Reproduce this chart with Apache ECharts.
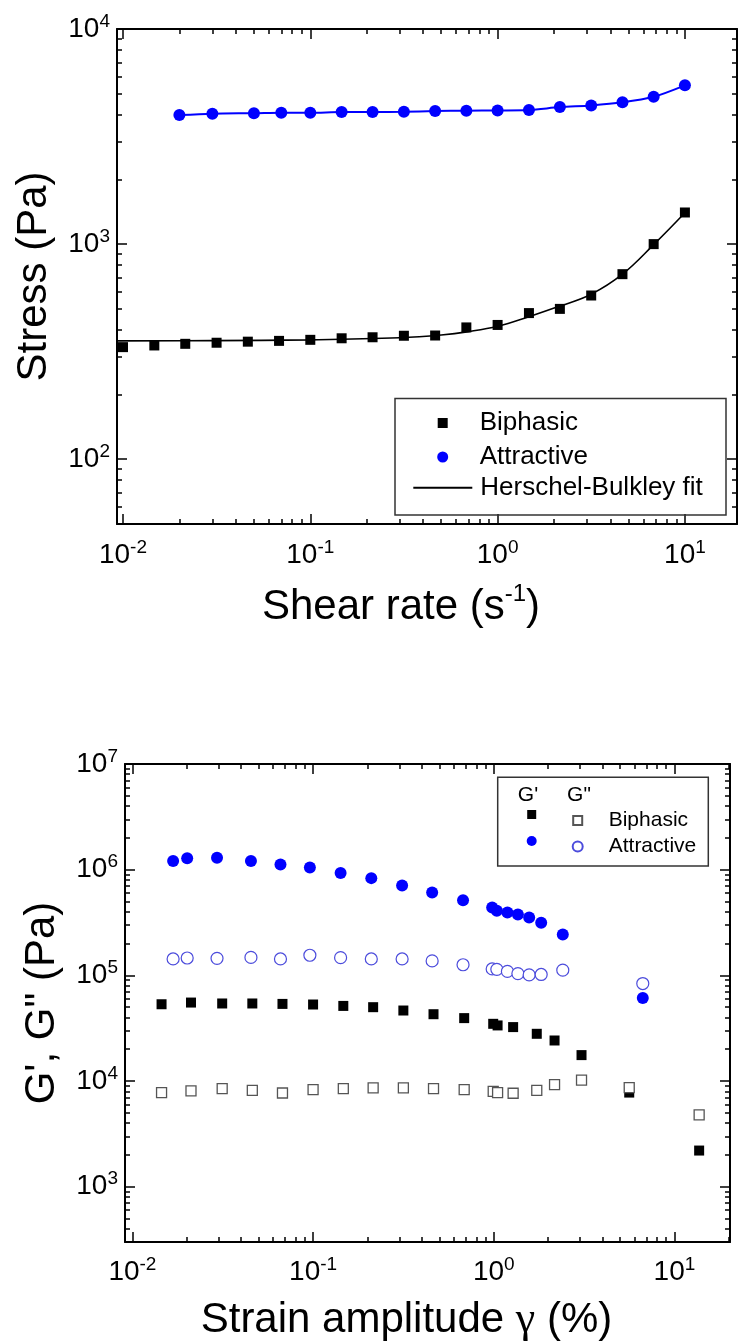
<!DOCTYPE html>
<html><head><meta charset="utf-8">
<script src="https://cdn.jsdelivr.net/npm/echarts@6/dist/echarts.min.js"></script>
<style>html,body{margin:0;padding:0;background:#fff}#c{width:738px;height:1342px}</style>
</head><body><div id="c"></div>
<script>
// ===== Top chart: flow curves (stress vs shear rate) =====
const biphasicRate   = [0.01,0.0147,0.0215,0.0316,0.0464,0.0681,0.1,0.147,0.215,0.316,0.464,0.681,1,1.47,2.15,3.16,4.64,6.81,10];
const biphasicStress = [332,338,344,348,352,355,359,365,369,375,376,410,421,478,500,577,725,1000,1403];
const attractiveRate   = [0.02,0.03,0.05,0.07,0.1,0.147,0.215,0.316,0.464,0.681,1,1.47,2.15,3.16,4.64,6.81,10];
const attractiveStress = [3980,4040,4060,4080,4080,4110,4110,4120,4155,4170,4180,4200,4335,4415,4560,4840,5470];
const hbFitRate   = [0.0093,0.03,0.1,0.3,0.5,0.7,1,1.47,2.15,3.16,4.64,6.81,10];
const hbFitStress = [355,356,359,367,378,392,415,460,515,585,725,995,1400];

// ===== Bottom chart: amplitude sweep =====
const attrStrain = [0.0168,0.0201,0.0294,0.0453,0.066,0.096,0.142,0.210,0.311,0.456,0.676,0.98,1.04,1.19,1.36,1.57,1.83,2.41,6.68];
const attrGp  = [1.21e6,1.28e6,1.30e6,1.21e6,1.12e6,1.05e6,9.29e5,8.32e5,7.10e5,6.09e5,5.15e5,4.39e5,4.08e5,3.94e5,3.77e5,3.53e5,3.14e5,2.44e5,6.12e4];
const attrGpp = [1.43e5,1.46e5,1.45e5,1.48e5,1.43e5,1.55e5,1.47e5,1.43e5,1.43e5,1.37e5,1.26e5,1.15e5,1.14e5,1.09e5,1.04e5,1.01e5,1.02e5,1.12e5,8.37e4];
const biStrain = [0.0145,0.0211,0.0314,0.0461,0.0677,0.1,0.147,0.215,0.316,0.464,0.686,0.993,1.05,1.28,1.73,2.17,3.06,5.62,13.7];
const biGp  = [5.33e4,5.53e4,5.42e4,5.42e4,5.37e4,5.30e4,5.14e4,5.00e4,4.65e4,4.29e4,3.94e4,3.48e4,3.36e4,3.24e4,2.80e4,2.42e4,1.76e4,7.78e3,2.20e3];
const biGpp = [7.78e3,8.06e3,8.49e3,8.18e3,7.71e3,8.31e3,8.49e3,8.61e3,8.61e3,8.49e3,8.31e3,8.00e3,7.78e3,7.67e3,8.18e3,9.27e3,1.02e4,8.68e3,4.78e3];

// ===== Axis ranges and tick labels =====
const x1Range = [0.00929, 18.97], y1Range = [50, 10000];
const x2Range = [0.0091, 20.3],   y2Range = [300, 1e7];
const x1Major = [0.01, 0.1, 1, 10], y1Major = [100, 1000, 10000];
const x2Major = [0.01, 0.1, 1, 10], y2Major = [1000, 1e4, 1e5, 1e6, 1e7];

const FONT = "'Liberation Sans', Arial, sans-serif";
const BLACK = '#000';
const BLUE = '#0000ff';

const L = Math.log10;
const zip = (a, b) => a.map((v, i) => [v, b[i]]);
function minorLog(majors, lo, hi) {
  const bases = [majors[0] / 10].concat(majors);
  const out = [];
  bases.forEach(m => { for (let k = 2; k <= 9; k++) { const v = m * k; if (v >= lo && v <= hi) out.push(L(v)); } });
  return out;
}
const tickRich = {
  b: { fontSize: 28, fontFamily: FONT, lineHeight: 34, color: BLACK },
  s: { fontSize: 19, fontFamily: FONT, lineHeight: 19, verticalAlign: 'top', color: BLACK }
};
const tickFmt = v => '{b|10}{s|' + Math.round(v) + '}';

function decor(gi, range, pos, vals, len, labelMargin, frame) {
  const a = {
    type: 'value', gridIndex: gi, min: L(range[0]), max: L(range[1]), position: pos,
    axisLine: { show: !!frame, onZero: false, lineStyle: { color: BLACK, width: 2 } },
    axisTick: { show: true, inside: true, length: len, lineStyle: { color: BLACK, width: 1.5 }, customValues: vals },
    axisLabel: { show: false },
    splitLine: { show: false }, minorTick: { show: false }, silent: true
  };
  if (labelMargin != null) {
    a.axisLabel = { show: true, customValues: vals, margin: labelMargin, formatter: tickFmt, rich: tickRich };
  }
  return a;
}
function dataAxis(gi, range, pos, name, nameGap, nameStyle) {
  return {
    type: 'log', logBase: 10, gridIndex: gi, min: range[0], max: range[1], position: pos,
    axisLine: { show: true, onZero: false, lineStyle: { color: BLACK, width: 2 } },
    axisTick: { show: false }, axisLabel: { show: false }, splitLine: { show: false }, minorTick: { show: false },
    name: name, nameLocation: 'middle', nameGap: nameGap, nameTextStyle: nameStyle
  };
}

const titleStyle = { fontSize: 42, fontFamily: FONT, color: BLACK, lineHeight: 50 };

const xAxes = [
  // grid 0 (index 0..4)
  dataAxis(0, x1Range, 'bottom', 'Shear rate (s{sup|-1})', 58,
    Object.assign({}, titleStyle, { padding: [0, 52, 0, 0], rich: { sup: { fontSize: 24, fontFamily: FONT, lineHeight: 24, verticalAlign: 'top', color: BLACK } } })),
  decor(0, x1Range, 'bottom', x1Major.map(L), 10, 14),
  decor(0, x1Range, 'bottom', minorLog(x1Major, x1Range[0], x1Range[1]), 5),
  decor(0, x1Range, 'top', x1Major.map(L), 10, null, true),
  decor(0, x1Range, 'top', minorLog(x1Major, x1Range[0], x1Range[1]), 5),
  // grid 1 (index 5..9)
  dataAxis(1, x2Range, 'bottom', 'Strain amplitude {g|γ} (%)', 53,
    Object.assign({}, titleStyle, { padding: [0, 42, 0, 0], rich: { g: { fontSize: 44, fontFamily: "'Liberation Serif', serif", lineHeight: 50, color: BLACK } } })),
  decor(1, x2Range, 'bottom', x2Major.map(L), 10, 13),
  decor(1, x2Range, 'bottom', minorLog(x2Major, x2Range[0], x2Range[1]), 5),
  decor(1, x2Range, 'top', x2Major.map(L), 10, null, true),
  decor(1, x2Range, 'top', minorLog(x2Major, x2Range[0], x2Range[1]), 5)
];
const yAxes = [
  dataAxis(0, y1Range, 'left', 'Stress (Pa)', 60, { fontSize: 42, fontFamily: FONT, color: BLACK, lineHeight: 46 }),
  decor(0, y1Range, 'left', y1Major.map(L), 10, 7),
  decor(0, y1Range, 'left', minorLog(y1Major, y1Range[0], y1Range[1]), 5),
  decor(0, y1Range, 'right', y1Major.map(L), 10, null, true),
  decor(0, y1Range, 'right', minorLog(y1Major, y1Range[0], y1Range[1]), 5),
  dataAxis(1, y2Range, 'left', 'G\', G" (Pa)', 60, { fontSize: 42, fontFamily: FONT, color: BLACK, lineHeight: 46 }),
  decor(1, y2Range, 'left', y2Major.map(L), 10, 7),
  decor(1, y2Range, 'left', minorLog(y2Major, y2Range[0], y2Range[1]), 5),
  decor(1, y2Range, 'right', y2Major.map(L), 10, null, true),
  decor(1, y2Range, 'right', minorLog(y2Major, y2Range[0], y2Range[1]), 5)
];

const legendText = (size, padLeft) => ({ fontSize: size, fontFamily: FONT, color: BLACK, padding: [0, 0, 0, padLeft] });
const legends = [
  { data: [{ name: 'Biphasic', icon: 'rect' }], left: 437.7, top: 410, padding: 0, itemWidth: 10, itemHeight: 10, textStyle: legendText(26, 27), selectedMode: false },
  { data: [{ name: 'Attractive', icon: 'circle' }], left: 437.2, top: 444, padding: 0, itemWidth: 11, itemHeight: 11, textStyle: legendText(26, 26.5), selectedMode: false },
  { data: [{ name: 'Herschel-Bulkley fit', icon: 'path://M0,0H59V2H0Z' }], left: 413.3, top: 474.7, padding: 0, itemWidth: 59, itemHeight: 2, textStyle: legendText(26, 3), selectedMode: false },
  { data: [{ name: "G' Biphasic", icon: 'rect' }], left: 527.2, top: 810, padding: 0, itemWidth: 9, itemHeight: 9, formatter: () => '', textStyle: legendText(21, 0), selectedMode: false },
  { data: [{ name: 'G" Biphasic', icon: 'rect' }], left: 572.2, top: 810, padding: 0, itemWidth: 9, itemHeight: 9, formatter: n => n.split(' ')[1], textStyle: legendText(21, 21.5), selectedMode: false },
  { data: [{ name: "G' Attractive", icon: 'circle' }], left: 526.7, top: 836, padding: 0, itemWidth: 10, itemHeight: 10, formatter: () => '', textStyle: legendText(21, 0), selectedMode: false },
  { data: [{ name: 'G" Attractive', icon: 'circle' }], left: 571.7, top: 836, padding: 0, itemWidth: 10, itemHeight: 10, formatter: n => n.split(' ')[1], textStyle: legendText(21, 21), selectedMode: false }
];

const option = {
  animation: false,
  backgroundColor: '#fff',
  grid: [
    { left: 117, top: 29, right: 1, height: 495, containLabel: false, outerBoundsMode: 'none' },
    { left: 125, top: 764, right: 8, height: 478, containLabel: false, outerBoundsMode: 'none' }
  ],
  xAxis: xAxes,
  yAxis: yAxes,
  legend: legends,
  graphic: [
    { type: 'rect', shape: { x: 395, y: 398.5, width: 331, height: 116.5 }, style: { fill: 'none', stroke: '#333', lineWidth: 1.5 }, z: 1 },
    { type: 'rect', shape: { x: 497.7, y: 777.3, width: 210.6, height: 88.7 }, style: { fill: 'none', stroke: '#333', lineWidth: 1.5 }, z: 1 },
    { type: 'text', x: 528, y: 795, style: { text: "G'", fontSize: 21, fontFamily: FONT, fill: BLACK, align: 'center', verticalAlign: 'middle' } },
    { type: 'text', x: 579, y: 795, style: { text: 'G"', fontSize: 21, fontFamily: FONT, fill: BLACK, align: 'center', verticalAlign: 'middle' } }
  ],
  series: [
    { name: 'Herschel-Bulkley fit', type: 'line', xAxisIndex: 0, yAxisIndex: 0, data: zip(hbFitRate, hbFitStress),
      smooth: 0.4, symbol: 'none', lineStyle: { color: BLACK, width: 1.6 }, itemStyle: { color: BLACK }, z: 2 },
    { name: 'attractive-line', type: 'line', xAxisIndex: 0, yAxisIndex: 0, data: zip(attractiveRate, attractiveStress),
      smooth: 0.3, symbol: 'none', lineStyle: { color: BLUE, width: 2 }, z: 2 },
    { name: 'Biphasic', type: 'scatter', xAxisIndex: 0, yAxisIndex: 0, data: zip(biphasicRate, biphasicStress),
      symbol: 'rect', symbolSize: 10, itemStyle: { color: BLACK, opacity: 1 }, z: 3 },
    { name: 'Attractive', type: 'scatter', xAxisIndex: 0, yAxisIndex: 0, data: zip(attractiveRate, attractiveStress),
      symbol: 'circle', symbolSize: 12, itemStyle: { color: BLUE, opacity: 1 }, z: 3 },

    { name: "G' Biphasic", type: 'scatter', xAxisIndex: 5, yAxisIndex: 5, data: zip(biStrain, biGp),
      symbol: 'rect', symbolSize: 10, itemStyle: { color: BLACK, opacity: 1 }, z: 3 },
    { name: "G' Attractive", type: 'scatter', xAxisIndex: 5, yAxisIndex: 5, data: zip(attrStrain, attrGp),
      symbol: 'circle', symbolSize: 12, itemStyle: { color: BLUE, opacity: 1 }, z: 3 },
    { name: 'G" Biphasic', type: 'scatter', xAxisIndex: 5, yAxisIndex: 5, data: zip(biStrain, biGpp),
      symbol: 'rect', symbolSize: 10, itemStyle: { color: '#fff', borderColor: '#555', borderWidth: 1.3, opacity: 1 }, z: 4 },
    { name: 'G" Attractive', type: 'scatter', xAxisIndex: 5, yAxisIndex: 5, data: zip(attrStrain, attrGpp),
      symbol: 'circle', symbolSize: 12, itemStyle: { color: '#fff', borderColor: '#4c4cdc', borderWidth: 1.2, opacity: 1 }, z: 4 }
  ]
};

const chart = echarts.init(document.getElementById('c'), null, { renderer: 'canvas' });
chart.setOption(option);
</script>
</body></html>
